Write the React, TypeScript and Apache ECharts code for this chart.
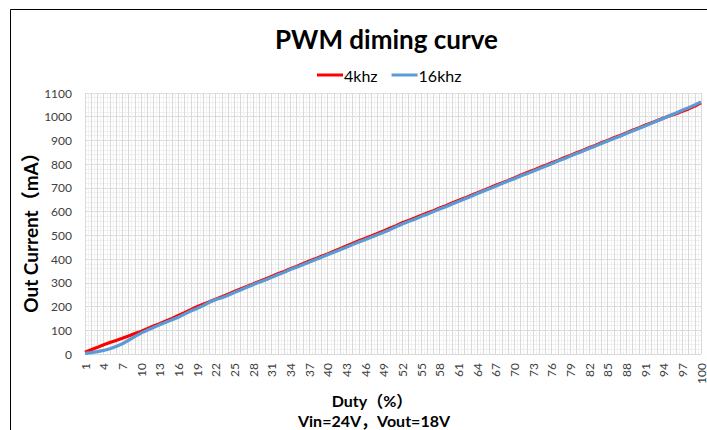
import React, { useEffect, useRef } from "react";
import * as echarts from "echarts";

const duty: number[] = Array.from({ length: 100 }, (_, i) => i + 1);

const current4khz: number[] = [
  7, 18, 28, 39, 48, 57, 66, 76, 86, 95,
  107, 118, 128, 139, 150, 162, 174, 187, 199, 210,
  220, 231, 241, 252, 263, 274, 285, 295, 306, 316,
  327, 338, 348, 359, 369, 380, 391, 401, 412, 422,
  433, 444, 455, 466, 477, 487, 497, 508, 519, 530,
  541, 553, 563, 573, 584, 594, 604, 615, 625, 636,
  647, 657, 668, 679, 689, 700, 711, 721, 731, 742,
  753, 764, 774, 785, 795, 806, 816, 827, 837, 848,
  858, 869, 879, 890, 900, 911, 921, 932, 943, 953,
  964, 974, 984, 995, 1004, 1013, 1023, 1033, 1045, 1059,
];

const current16khz: number[] = [
  3, 6, 10, 15, 22, 32, 43, 58, 73, 88,
  100, 112, 123, 134, 144, 155, 168, 181, 192, 204,
  218, 230, 237, 248, 259, 270, 281, 292, 302, 312,
  323, 334, 344, 356, 366, 376, 387, 397, 408, 418,
  429, 439, 450, 461, 472, 482, 492, 503, 513, 524,
  536, 548, 558, 568, 579, 589, 600, 611, 621, 632,
  643, 653, 664, 675, 686, 696, 707, 718, 729, 739,
  750, 760, 770, 781, 791, 802, 813, 823, 834, 845,
  855, 866, 876, 887, 898, 908, 918, 929, 940, 950,
  961, 972, 983, 994, 1005, 1016, 1027, 1038, 1050, 1062,
];

const seriesNames: string[] = ["4khz", "16khz"];
const titleText = "PWM diming curve";
const xName = "Duty（%）";
const yName = "Out Current（mA）";
const footnote = "Vin=24V，Vout=18V";

export default function App() {
  const ref = useRef<HTMLDivElement>(null);
  useEffect(() => {
    document.body.style.margin = "0";
    if (!ref.current) return;
    const chart = echarts.init(ref.current, undefined, { renderer: "svg" });
    const font = "Lato, 'Noto Sans CJK SC', sans-serif";
    chart.setOption({
      animation: false,
      backgroundColor: "#ffffff",
      title: {
        text: titleText,
        left: 270,
        top: 21,
        textStyle: { fontFamily: font, fontSize: 26, fontWeight: "bold", color: "#000" },
      },
      legend: {
        left: 312,
        top: 62,
        itemGap: 14,
        itemWidth: 26,
        itemHeight: 3,
        icon: "rect",
        textStyle: { fontFamily: font, fontSize: 16, color: "#000", padding: [0, 0, 0, -4] },
        data: seriesNames,
      },
      grid: { left: 85, right: 3, top: 93, bottom: 76, containLabel: false },
      xAxis: {
        type: "value",
        min: 1,
        max: 100,
        interval: 1,
        axisLine: { show: false },
        axisTick: { show: false },
        axisLabel: {
          rotate: 90,
          fontFamily: font,
          fontSize: 12,
          color: "#404040",
          margin: 9,
          formatter: (v: number) => ((v - 1) % 3 === 0 ? String(v) : ""),
        },
        splitLine: { show: true, lineStyle: { color: "#d9d9d9", width: 1 } },
        minorTick: { show: false, splitNumber: 2 },
        minorSplitLine: { show: true, lineStyle: { color: "#f1f1f1", width: 1 } },
      },
      yAxis: {
        type: "value",
        min: 0,
        max: 1100,
        interval: 100,
        axisLine: { show: false },
        axisTick: { show: false },
        axisLabel: {
          fontFamily: font,
          fontSize: 12,
          color: "#404040",
          margin: 13,
          formatter: (v: number) => String(v),
        },
        splitLine: { show: true, lineStyle: { color: "#d9d9d9", width: 1 } },
        minorTick: { show: false, splitNumber: 5 },
        minorSplitLine: { show: true, lineStyle: { color: "#efefef", width: 1 } },
      },
      series: [
        {
          name: seriesNames[0],
          type: "line",
          showSymbol: false,
          symbol: "none",
          lineStyle: { color: "#ff0000", width: 3.2 },
          itemStyle: { color: "#ff0000" },
          data: duty.map((d, i) => [d, current4khz[i]]),
        },
        {
          name: seriesNames[1],
          type: "line",
          showSymbol: false,
          symbol: "none",
          lineStyle: { color: "#5b9bd5", width: 3.2 },
          itemStyle: { color: "#5b9bd5" },
          data: duty.map((d, i) => [d, current16khz[i]]),
        },
      ],
      graphic: [
        {
          type: "rect",
          shape: { x: 10.5, y: 9.5, width: 800, height: 600 },
          style: { fill: "none", stroke: "#000", lineWidth: 1 },
          silent: true,
        },
        {
          type: "text",
          x: 30,
          y: 228,
          rotation: Math.PI / 2,
          style: {
            text: yName,
            fontFamily: font,
            fontSize: 19,
            fontWeight: "bold",
            fill: "#000",
            textAlign: "center",
            textVerticalAlign: "middle",
          },
        },
        {
          type: "text",
          x: 372,
          y: 400,
          style: {
            text: xName,
            fontFamily: font,
            fontSize: 16,
            fontWeight: "bold",
            fill: "#000",
            textAlign: "center",
            textVerticalAlign: "middle",
          },
        },
        {
          type: "text",
          x: 374,
          y: 420,
          style: {
            text: footnote,
            fontFamily: font,
            fontSize: 16,
            fontWeight: "bold",
            fill: "#000",
            textAlign: "center",
            textVerticalAlign: "middle",
          },
        },
      ],
    });
    return () => chart.dispose();
  }, []);
  return <div ref={ref} style={{ width: 707, height: 430 }} />;
}
